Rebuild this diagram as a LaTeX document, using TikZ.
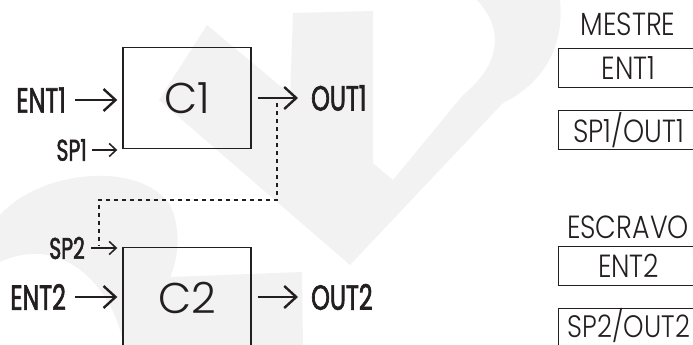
\documentclass[tikz,border=0pt]{standalone}
\usepackage{fontspec}
\setmainfont{Poppins Light}
\newfontfamily\thinfont{Poppins Light}[FakeStretch=0.84]
\newfontfamily\tagfont{Poppins}[FakeStretch=0.68, FakeBold=1.8]
\usetikzlibrary{positioning,arrows.meta}
\definecolor{ink}{RGB}{35,31,32}

\begin{document}
\begin{tikzpicture}[
     x=1pt, y=-1pt,
     % define styles
     block/.style={
         draw=ink, line width=1.4pt, inner sep=0pt,
         minimum width=128pt, minimum height=101pt,
         text=ink, font=\fontsize{43}{46}\selectfont
     },
     tag/.style={
         inner sep=0pt, text=ink,
         font=\tagfont\fontsize{35}{38}\selectfont
     },
     smalltag/.style={
         inner sep=0pt, text=ink,
         font=\tagfont\fontsize{30}{32}\selectfont
     },
     head/.style={
         inner sep=0pt, text=ink,
         font=\thinfont\fontsize{32}{34}\selectfont
     },
     cell/.style={
         head, draw=ink, line width=1.3pt,
         minimum width=140pt, minimum height=39pt
     },
     big/.style={
         draw=ink, line width=2.6pt,
         -{Straight Barb[length=12pt,width=22pt,line width=2.4pt]}
     },
     slim/.style={
         draw=ink, line width=1.5pt,
         -{Straight Barb[length=7pt,width=13pt,line width=1.5pt]}
     },
     link/.style={draw=ink, line width=1.8pt, dash pattern=on 4pt off 4pt},
     wmark/.style={fill=black!5, draw=none}
]
\useasboundingbox (0,0) rectangle (693,345);
\clip (0,0) rectangle (693,345);

% faint watermark behind the drawing
\path[wmark] (207,25) -- (393,180) -- (350,265) -- (159,100) -- cycle;
\path[wmark] (293,13) -- (373,11) -- (373,165) -- (290,99) -- cycle;
\path[wmark] (463,95) -- (503,103) -- (350,265) -- (393,180) -- cycle;
\path[wmark] (477,0) -- (560,0) .. controls (565,50) and (540,85) .. (503,103)
     -- (463,95) .. controls (500,65) and (505,30) .. (477,0);
\path[wmark] (0,215) .. controls (40,170) and (140,160) .. (170,205)
     .. controls (182,230) and (178,260) .. (170,277) -- (302,272) -- (303,345)
     -- (123,345) .. controls (118,300) and (70,230) .. (0,262) -- cycle;

% the two blocks
\node[block] (c1) at (187,98) {C1};
\node[block] (c2) at (187,298) {C2};

% inputs and outputs of C1
\node[tag, anchor=east] (ent1) at (66,100) {ENT1};
\node[smalltag, anchor=east] (sp1) at (87,150) {SP1};
\node[tag, anchor=west] (out1) at (311,98) {OUT1};
\draw[big, shorten <=9pt, shorten >=5pt] (ent1.east) -- (ent1 -| c1.west);
\draw[slim, shorten <=5pt, shorten >=5pt] (sp1.east) -- (sp1 -| c1.west);
\draw[big, shorten <=6pt, shorten >=13pt] (c1.east) -- (out1.west);

% inputs and outputs of C2
\node[tag, anchor=east] (ent2) at (66,297) {ENT2};
\node[smalltag, anchor=east] (sp2) at (85,248) {SP2};
\node[tag, anchor=west] (out2) at (311,297) {OUT2};
\draw[big, shorten <=9pt, shorten >=5pt] (ent2.east) -- (ent2 -| c2.west);
\draw[slim, shorten <=6pt, shorten >=5pt] (sp2.east) -- (sp2 -| c2.west);
\draw[big, shorten <=6pt, shorten >=13pt] (c2.east |- out2) -- (out2.west);

% OUT1 fed to SP2
\coordinate (tap) at (277,103);
\coordinate (bend) at (99,200);
\coordinate (drop) at (99,246);
\draw[link] (tap) |- (bend) -- (drop);

% master / slave table
\node[head] (master) at (628,24) {MESTRE};
\node[cell, anchor=west] (m1) at (558,68) {ENT1};
\node[cell, anchor=west] (m2) at (558,130) {SP1/OUT1};
\node[head] (slave) at (628,227) {ESCRAVO};
\node[cell, anchor=west] (s1) at (558,266) {ENT2};
\node[cell, anchor=north west, minimum height=44pt] (s2) at (558,308) {};
\node[head, font=\thinfont\fontsize{31}{33}\selectfont] (s2text) at (629,325) {SP2/OUT2};
\end{tikzpicture}
\end{document}
